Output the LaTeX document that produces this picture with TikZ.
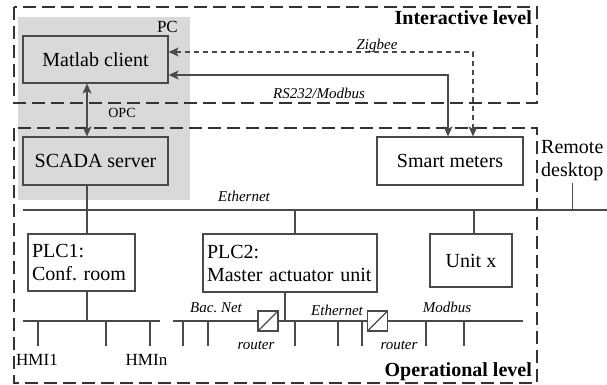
\documentclass[tikz,border=0pt]{standalone}
\usepackage{fontspec}
\setmainfont{Liberation Serif}
\usetikzlibrary{arrows.meta,positioning}
\definecolor{linegray}{HTML}{4A4A4A}
\definecolor{pcgray}{HTML}{D9D9D9}
\newcommand\boxfont{\fontsize{20}{23}\selectfont}
\newcommand\tagfont{\fontsize{15}{17}\selectfont\itshape}

\begin{document}
\begin{tikzpicture}[x=1pt,y=-1pt,>={Stealth[length=10pt,width=9pt,inset=2.5pt]},
    link/.style={draw=linegray,line width=1.5pt},
    box/.style={rectangle,draw=linegray,line width=1.2pt,inner sep=0pt,font=\boxfont},
    level/.style={draw=black!80,line width=1.3pt,dash pattern=on 13pt off 6pt},
    tag/.style={font=\tagfont,inner sep=1pt},
    router/.style={rectangle,draw=linegray,line width=1.2pt,fill=white,minimum size=20pt,inner sep=0pt,
      path picture={\draw[linegray,line width=1.2pt] (path picture bounding box.south west) -- (path picture bounding box.north east);}}]
  \useasboundingbox (0,0) rectangle (607,385);

  % PC area and the two levels
  \fill[pcgray] (18,17) rectangle (190,200);
  \node[anchor=east,font=\fontsize{17}{19}\selectfont,inner sep=1pt] (pc) at (179,27) {PC};
  \draw[level] (14,7) rectangle (537,103);
  \draw[level] (14,128) rectangle (537,383);
  \node[anchor=east,font=\boxfont\bfseries,inner sep=1pt] (inter) at (533,18) {Interactive level};
  \node[anchor=east,font=\boxfont\bfseries,inner sep=1pt] (oper) at (533,372) {Operational level};

  \node[box,fill=pcgray,minimum width=145pt,minimum height=47pt] (matlab) at (95.5,59.5) {Matlab client};
  \node[box,fill=pcgray,minimum width=145pt,minimum height=48pt] (scada) at (95.5,161) {SCADA server};
  \node[box,minimum width=146pt,minimum height=48pt] (smart) at (450,161) {Smart meters};
  \node[anchor=west,align=left,font=\boxfont,inner sep=2pt] (remote) at (539,161) {Remote\\desktop};

  \node[box,align=left,text width=99pt,inner xsep=4pt,minimum height=57pt] (plc1) at (81.5,262.5) {PLC1:\\Conf.\ room};
  \node[box,align=left,text width=166pt,inner xsep=4pt,minimum height=58pt] (plc2) at (290,263) {PLC2:\\Master actuator unit};
  \node[box,minimum width=82pt,minimum height=53pt] (unitx) at (471,260.5) {Unit x};

  % buses
  \coordinate (trunk) at (87,0);
  \coordinate (eth west) at (23,210);
  \coordinate (eth east) at (607,210);
  \coordinate (bus1 west) at (23,321);
  \coordinate (bus1 east) at (160,321);
  \coordinate (bus2 west) at (173,321);
  \coordinate (bus2 east) at (523,321);
  \coordinate (rs) at (448,75);
  \coordinate (zb) at (473,52);

  % links to the interactive level
  \draw[link,<->] (matlab.south -| trunk) -- (scada.north -| trunk);
  \node[font=\fontsize{14}{16}\selectfont,inner sep=1pt] (opc) at (122,113) {OPC};
  \draw[link,<->] (matlab.east |- rs) -| (smart.north -| rs);
  \draw[link,<->,dash pattern=on 5pt off 4pt] (matlab.east |- zb) -| (smart.north -| zb);
  \node[tag] (zigbee) at (377,46) {Zigbee};
  \node[tag] (rs232) at (319,93) {RS232/Modbus};

  % ethernet
  \draw[link] (eth west) -- (eth east);
  \node[tag] (eth) at (244,196) {Ethernet};
  \draw[link] (scada.south -| trunk) -- (eth west -| trunk);
  \draw[link] (remote.south) -- (remote.south |- eth east);
  \draw[link] (plc1.north -| trunk) -- (eth west -| trunk);
  \draw[link] ([xshift=5pt]plc2.north) -- ([xshift=5pt]plc2.north |- eth west);
  \draw[link] ([xshift=3pt]unitx.north) -- ([xshift=3pt]unitx.north |- eth west);

  % field buses
  \draw[link] (bus1 west) -- (bus1 east);
  \draw[link] (plc1.south -| trunk) -- (bus1 west -| trunk);
  \foreach \x in {38,106,150}
    \draw[link] (bus1 west -| \x,0) -- ++(0,25);
  \node[font=\fontsize{17}{19}\selectfont,inner sep=1pt] (hmi1) at (37,360) {HMI1};
  \node[font=\fontsize{17}{19}\selectfont,inner sep=1pt] (hmin) at (146.5,360) {HMIn};

  \draw[link] (bus2 west) -- (bus2 east);
  \draw[link] ([xshift=-5pt]plc2.south) -- ([xshift=-5pt]plc2.south |- bus2 west);
  \foreach \x in {183,208,295,338,362,426,464}
    \draw[link] (bus2 west -| \x,0) -- ++(0,25);
  \node[router] (r1) at (268,321) {};
  \node[router] (r2) at (377.5,321) {};
  \node[tag] (bacnet) at (216,308) {Bac.\ Net};
  \node[tag] (router1) at (256,345) {router};
  \node[tag] (eth2) at (337,310) {Ethernet};
  \node[tag] (router2) at (399,345) {router};
  \node[tag] (modbus) at (447,307) {Modbus};
\end{tikzpicture}
\end{document}
